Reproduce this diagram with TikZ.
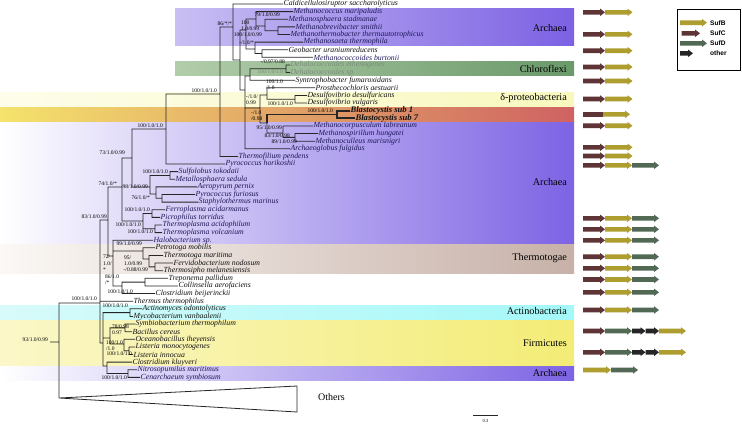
\documentclass[tikz,border=0pt]{standalone}
\usepackage{fontspec}
\setmainfont{Liberation Serif}
\newfontfamily\legendfont{Liberation Sans}

\definecolor{sufB}{HTML}{AE9D2F}
\definecolor{sufC}{HTML}{5E3436}
\definecolor{sufD}{HTML}{526956}
\definecolor{sufO}{HTML}{262626}
\definecolor{bk}{HTML}{111111}
\definecolor{ar}{HTML}{1E1858}
\definecolor{dh}{HTML}{7A8C7A}

\newcommand{\gene}[4]{\fill[#4] (#1,#2-2.3) -- ++(#3-5,0) -- ++(0,-1.5) -- ++(5,3.8) -- ++(-5,3.8) -- ++(0,-1.5) -- ++({5-#3},0) -- cycle;}

\begin{document}
\begin{tikzpicture}[x=1pt, y=-1pt,
        branch/.style = {draw=black!85, line width=0.8pt},
        blastobranch/.style = {draw=black!85, line width=1.7pt},
        taxon/.style = {anchor=west, inner sep=0.4pt, font=\fontsize{7.8}{8}\selectfont\itshape},
        boot/.style = {inner sep=0pt, align=left, font=\fontsize{5.5}{6.3}\selectfont},
        clade/.style = {anchor=east, inner sep=0pt, font=\fontsize{10.2}{11}\selectfont},
        legendbox/.style = {draw, line width=0.8pt, minimum width=63.7pt, minimum height=61.4pt, inner sep=0pt},
        legtext/.style = {anchor=west, inner sep=0pt, font=\legendfont\bfseries\fontsize{6.6}{7}\selectfont}
        ]
        \useasboundingbox (0,0) rectangle (742,424);

        \shade[left color={rgb,255:red,201;green,191;blue,243}, right color={rgb,255:red,124;green,97;blue,227}] (175,8.3) rectangle (574,45.5);
        \shade[left color={rgb,255:red,178;green,205;blue,170}, right color={rgb,255:red,106;green,153;blue,106}] (175,61.6) rectangle (574,75.9);
        \shade[left color={rgb,255:red,253;green,253;blue,235}, right color={rgb,255:red,248;green,248;blue,190}] (0,92.2) rectangle (574,106.2);
        \shade[left color={rgb,255:red,244;green,227;blue,108}, middle color={rgb,255:red,219;green,154;blue,104}, right color={rgb,255:red,207;green,98;blue,98}] (0,107) rectangle (574,121.8);
        \shade[left color=white, middle color={rgb,255:red,178;green,164;blue,239}, right color={rgb,255:red,125;green,99;blue,228}] (0,122.6) rectangle (574,243.6);
        \shade[left color={rgb,255:red,251;green,248;blue,245}, middle color={rgb,255:red,226;green,216;blue,212}, right color={rgb,255:red,199;green,177;blue,168}] (0,244.8) rectangle (574,273.8);
        \shade[left color={rgb,255:red,216;green,250;blue,250}, middle color={rgb,255:red,166;green,249;blue,249}, right color={rgb,255:red,164;green,248;blue,248}] (0,305.2) rectangle (574,319.8);
        \shade[left color={rgb,255:red,251;green,247;blue,200}, middle color={rgb,255:red,246;green,241;blue,140}, right color={rgb,255:red,243;green,236;blue,118}] (0,320.8) rectangle (574,365.2);
        \shade[left color=white, middle color={rgb,255:red,178;green,164;blue,239}, right color={rgb,255:red,125;green,99;blue,228}] (0,366.2) rectangle (574,380.5);

        \node[clade] (cA1) at (567,28) {Archaea};
        \node[clade] (cCh) at (567,69) {Chloroflexi};
        \node[clade] (cDp) at (567,98.5) {δ-proteobacteria};
        \node[clade] (cA2) at (567,182) {Archaea};
        \node[clade] (cTh) at (567,258) {Thermotogae};
        \node[clade] (cAc) at (567,311.5) {Actinobacteria};
        \node[clade] (cFi) at (567,343) {Firmicutes};
        \node[clade] (cA3) at (567,373) {Archaea};

        \foreach \lx/\name/\tc [count=\i] in {
                283/Caldicellulosiruptor saccharolyticus/bk,
                293/Methanococcus maripaludis/ar,
                288/Methanosphaera stadmanae/ar,
                295/Methanobrevibacter smithii/ar,
                290/Methanothermobacter thermautotrophicus/ar,
                303/Methanosaeta thermophila/ar,
                288/Geobacter uraniumreducens/bk,
                313/Methanococcoides burtonii/ar,
                290/Dehalococcoides ethenogenes/dh,
                290/Dehalococcoides sp./dh,
                295/Syntrophobacter fumaroxidans/bk,
                315/Prosthecochloris aestuarii/bk,
                307/Desulfovibrio desulfuricans/bk,
                307/Desulfovibrio vulgaris/bk,
                350/{\fontsize{8.6}{8.6}\selectfont\bfseries Blastocystis sub 1}/bk,
                355/{\fontsize{8.6}{8.6}\selectfont\bfseries Blastocystis sub 7}/bk,
                313/Methanocorpusculum labreanum/ar,
                318/Methanospirillum hungatei/ar,
                315/Methanoculleus marisnigri/ar,
                290/Archaeoglobus fulgidus/ar,
                238/Thermofilium pendens/ar,
                225/Pyrococcus horikoshii/ar,
                178/Sulfolobus tokodaii/ar,
                175/Metallosphaera sedula/ar,
                197/Aeropyrum pernix/ar,
                195/Pyrococcus furiosus/ar,
                198/Staphylothermus marinus/ar,
                165/Ferroplasma acidarmanus/ar,
                160/Picrophilus torridus/ar,
                162/Thermoplasma acidophilum/ar,
                162/Thermoplasma volcanium/ar,
                153/Halobacterium sp./ar,
                155/Petrotoga mobilis/bk,
                163/Thermotoga maritima/bk,
                173/Fervidobacterium nodosum/bk,
                163/Thermosipho melanesiensis/bk,
                168/Treponema pallidum/bk,
                178/Collinsella aerofaciens/bk,
                155/Clostridium beijerinckii/bk,
                133/Thermus thermophilus/bk,
                142/Actinomyces odontolyticus/bk,
                133/Mycobacterium vanbaalenii/bk,
                135/Symbiobacterium thermophilum/bk,
                132/Bacillus cereus/bk,
                135/Oceanobacillus iheyensis/bk,
                135/Listeria monocytogenes/bk,
                133/Listeria innocua/bk,
                132/Clostridium kluyveri/bk,
                137/Nitrosopumilus maritimus/ar,
                140/Cenarchaeum symbiosum/ar}
                \node[taxon, text=\tc] (t\i) at (\lx,{4+7.62*(\i-1)}) {\name};

        \foreach \n/\x/\y in {R/59/342, stub/50/342, oth/59/398, othT/297/386, othB/297/412,
                G/100/303, H/108/220, U/122/187, Q/132/158, P/166/129, B/220/94, C/233/27,
                D/240/60, MG/246/30, M1/256/19, MS/265/26, MT/278/30.67, GM/255/49, GB/262/53.53,
                E/245/90, W/250/76, DH/286/68.77, Y2/260/108, SP/267/95, DD/295/99.25,
                Z/267/123, BL/337/114.49, MM/283/133, MH/295/137.35,
                N98/150/187, SM/170/175.45, N76/156/194, PS/162/198.31,
                TP/143/221, FP/152/213.55, TT/155/228.79,
                K/113/256, TG/143/251, T2/149/259, FT/155/266.89, K3/122/286, TC/145/282.13,
                L/103/343, AM/130/312.61, F/110/338, SB/125/327.85, OL/124/344, LL/129/350.71,
                CN/107/366, NC/128/373.57}
                \coordinate (\n) at (\x,\y);

        \draw[branch]
                (stub) -- (R) (R) |- (G) (R) |- (oth)
                (G) |- (H) (G) |- (t40.west) (G) |- (L)
                (H) |- (U) (H) |- (K)
                (U) |- (Q) (U) |- (TP)
                (Q) |- (P) (Q) |- (N98)
                (P) |- (B) (P) |- (t22.west)
                (B) |- (C) (B) |- (t21.west)
                (C) |- (t1.west) (C) |- (D)
                (D) |- (MG) (D) |- (E)
                (MG) |- (M1) (MG) |- (GM)
                (M1) |- (t2.west) (M1) |- (MS)
                (MS) |- (t3.west) (MS) |- (MT)
                (MT) |- (t4.west) (MT) |- (t5.west)
                (GM) |- (t6.west) (GM) |- (GB)
                (GB) |- (t7.west) (GB) |- (t8.west)
                (E) |- (W) (E) |- (Y2) (E) |- (t20.west)
                (W) |- (DH) (W) |- (t11.west)
                (DH) |- (t9.west) (DH) |- (t10.west)
                (Y2) |- (SP) (Y2) |- (Z)
                (SP) |- (t12.west) (SP) |- (DD)
                (DD) |- (t13.west) (DD) |- (t14.west)
                (Z) |- (MM)
                (MM) |- (t17.west) (MM) |- (MH)
                (MH) |- (t18.west) (MH) |- (t19.west)
                (N98) |- (SM) (N98) |- (N76)
                (SM) |- (t23.west) (SM) |- (t24.west)
                (N76) |- (t25.west) (N76) |- (PS)
                (PS) |- (t26.west) (PS) |- (t27.west)
                (TP) |- (FP) (TP) |- (TT)
                (FP) |- (t28.west) (FP) |- (t29.west)
                (TT) |- (t30.west) (TT) |- (t31.west)
                (K) |- (t32.west) (K) |- (TG) (K) |- (K3)
                (TG) |- (t33.west) (TG) |- (T2)
                (T2) |- (t34.west) (T2) |- (FT)
                (FT) |- (t35.west) (FT) |- (t36.west)
                (K3) |- (TC) (K3) |- (t39.west)
                (TC) |- (t37.west) (TC) |- (t38.west)
                (L) |- (AM) (L) |- (F) (L) |- (CN)
                (AM) |- (t41.west) (AM) |- (t42.west)
                (F) |- (SB) (F) |- (OL)
                (SB) |- (t43.west) (SB) |- (t44.west)
                (OL) |- (t45.west) (OL) |- (LL)
                (LL) |- (t46.west) (LL) |- (t47.west)
                (CN) |- (t48.west) (CN) |- (NC)
                (NC) |- (t49.west) (NC) |- (t50.west)
                (oth) -- (othT) -- (othB) -- cycle;
        \draw[blastobranch] (Z) |- (BL) (BL) |- (t15.west) (BL) |- (t16.west);

        \node[anchor=west, inner sep=0pt, font=\fontsize{10}{10}\selectfont] (others) at (318,397) {Others};

        \node[boot, anchor=east] at (48,340) {93/1.0/0.99};
        \node[boot, anchor=east] at (97,298.5) {100/1.0/1.0};
        \node[boot, anchor=east] at (107,217) {83/1.0/0.99};
        \node[boot, anchor=east] at (117,184) {74/1.0/*};
        \node[boot, anchor=east] at (125,153) {73/1.0/0.99};
        \node[boot, anchor=east] at (163,126) {100/1.0/1.0};
        \node[boot, anchor=east] at (217,90.5) {100/1.0/1.0};
        \node[boot, anchor=east] at (232,24) {86/*/*};
        \node[boot, anchor=east] at (280,15) {79/1.0/0.99};
        \node[boot, anchor=west] at (241,26) {100\\1.0/0.99};
        \node[boot, anchor=east] at (262,34.5) {100/1.0/0.99};
        \node[boot, anchor=east] at (254,43) {-/1.0/*};
        \node[boot, anchor=east] at (285,62) {-/0.97/0.88};
        \node[boot, anchor=east, text=dh] at (283,71.5) {100/1.0/1.0};
        \node[boot, anchor=west] at (266,84.5) {100/1.0\\/1.0};
        \node[boot, anchor=west] at (246,99.5) {-/1.0/\\0.99};
        \node[boot, anchor=east] at (293,103.5) {100/1.0/1.0};
        \node[boot, anchor=west] at (251,115.5) {-/1.0\\/0.98};
        \node[boot, anchor=east] at (333,111) {100/1.0/1.0};
        \node[boot, anchor=east] at (282,127.5) {95/1.0/0.99};
        \node[boot, anchor=east] at (290,136) {83/1.0/0.98};
        \node[boot, anchor=east] at (297,142) {89/1.0/0.99};
        \node[boot, anchor=east] at (168,172) {100/1.0/1.0};
        \node[boot, anchor=east] at (148,187) {98/1.0/0.99};
        \node[boot, anchor=east] at (150,197.5) {76/1.0/*};
        \node[boot, anchor=east] at (150,210) {100/1.0/1.0};
        \node[boot, anchor=east] at (141,224.5) {100/1.0/1.0};
        \node[boot, anchor=east] at (153,231.5) {100/1.0/1.0};
        \node[boot, anchor=east] at (142,243.5) {99/1.0/0.99};
        \node[boot, anchor=north west] at (103,255) {72/\\1.0/\\*};
        \node[boot, anchor=west] at (124,261) {95/\\1.0/0.99};
        \node[boot, anchor=east] at (148,269.5) {-/0.88/0.99};
        \node[boot, anchor=west] at (105,279.5) {86/1.0\\/*};
        \node[boot, anchor=east] at (133,291.5) {100/1.0/1.0};
        \node[boot, anchor=east] at (128,305.5) {100/1.0/1.0};
        \node[boot, anchor=west] at (112,330) {78/0.98\\0.97};
        \node[boot, anchor=west] at (106,345.5) {100/1.0\\/1.0};
        \node[boot, anchor=east] at (132,353.5) {100/1.0/1.0};
        \node[boot, anchor=east] at (127,377.5) {100/1.0/1.0};

        \coordinate (bar1) at (473.3,415.7);
        \coordinate (bar2) at (497.7,415.7);
        \draw[branch] (bar1) -- (bar2);
        \node[inner sep=0pt, font=\fontsize{4.5}{5}\selectfont] (barlabel) at (485.5,421) {0.3};

        \foreach \gy in {12.3,34.3,50.7,67,81,99,125.7,147.3,156}{\gene{583}{\gy}{22}{sufC}\gene{605}{\gy}{27.5}{sufB}}
        \fill[sufC] (583,112) rectangle (603,116.6);
        \gene{603}{114.3}{27}{sufB}
        \foreach \gy in {165.3,218.3,229.3,240.3,256.7,268.3,279.5,292.3,310}{\gene{583}{\gy}{22}{sufC}\gene{605}{\gy}{27}{sufB}\gene{632}{\gy}{27}{sufD}}
        \foreach \gy in {331,352.3}{\gene{583}{\gy}{22}{sufC}\gene{605}{\gy}{27}{sufD}\gene{632}{\gy}{13.5}{sufO}\gene{645.5}{\gy}{13.5}{sufO}\gene{659}{\gy}{27}{sufB}}
        \gene{583}{370}{28}{sufB}
        \gene{611}{370}{27}{sufD}

        \node[legendbox] (legend) at (708.8,40) {};
        \gene{680}{22.7}{27}{sufB}
        \gene{681.7}{33.3}{18.3}{sufC}
        \gene{680}{43.3}{27}{sufD}
        \gene{680}{53.3}{13}{sufO}
        \node[legtext] (legB) at (710,22.7) {SufB};
        \node[legtext] (legC) at (710,33.3) {SufC};
        \node[legtext] (legD) at (710,43.3) {SufD};
        \node[legtext] (legO) at (710,53.3) {other};
\end{tikzpicture}
\end{document}
